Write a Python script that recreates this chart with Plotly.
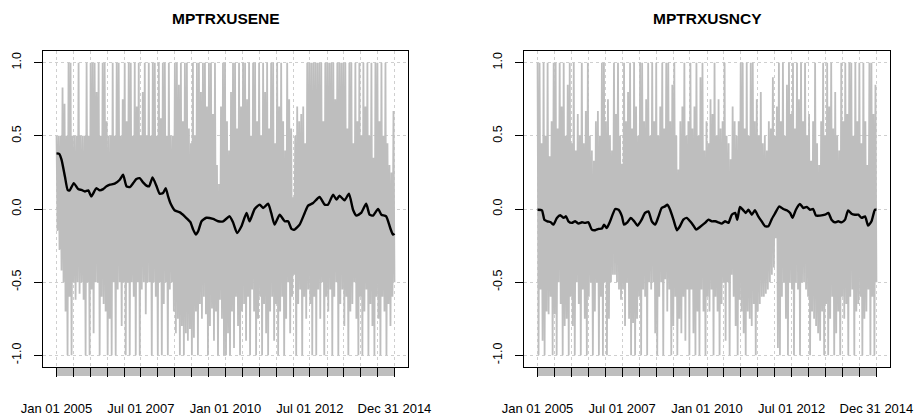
import numpy as np
import pandas as pd
import plotly.graph_objects as go

START = pd.Timestamp("2005-01-01")
END = pd.Timestamp("2014-12-31")

titles = ["MPTRXUSENE", "MPTRXUSNCY"]

# Daily indicator, summarised as the high / low reached in each short window
ene_hi = [0.5, 0.5, 0.5, 0.83, 0.72, 0.5, 1.0, 1.0, 0.5, 0.5,
          0.5, 1.0, 0.5, 0.5, 0.5, 1.0, 0.5, 1.0, 1.0, 1.0,
          0.8, 1.0, 0.5, 1.0, 1.0, 0.6, 0.5, 0.5, 1.0, 0.5,
          1.0, 1.0, 0.5, 0.75, 1.0, 0.6, 1.0, 1.0, 0.5, 1.0,
          0.7, 1.0, 0.5, 0.8, 1.0, 0.5, 1.0, 0.5, 1.0, 1.0,
          0.5, 1.0, 0.62, 1.0, 1.0, 0.5, 1.0, 0.5, 0.5, 1.0,
          1.0, 0.85, 1.0, 0.6, 1.0, 1.0, 0.55, 0.45, 1.0, 0.5,
          1.0, 1.0, 0.8, 1.0, 1.0, 0.7, 1.0, 1.0, 0.65, 1.0,
          0.3, 0.17, 0.7, 1.0, 1.0, 0.6, 0.4, 0.8, 1.0, 1.0,
          0.55, 1.0, 0.7, 1.0, 1.0, 0.75, 1.0, 0.5, 1.0, 1.0,
          0.6, 1.0, 0.5, 1.0, 0.8, 1.0, 0.55, 1.0, 1.0, 0.45,
          1.0, 0.7, 1.0, 0.6, 0.4, 1.0, 0.75, 0.55, 0.08, 0.5,
          0.7, 0.6, 0.65, 0.7, 0.45, 1.0, 1.0, 1.0, 1.0, 1.0,
          1.0, 1.0, 1.0, 0.6, 1.0, 1.0, 1.0, 1.0, 1.0, 0.75,
          1.0, 1.0, 1.0, 1.0, 1.0, 0.55, 1.0, 1.0, 0.45, 1.0,
          0.6, 1.0, 0.5, 1.0, 0.7, 1.0, 0.5, 1.0, 0.35, 1.0,
          1.0, 0.6, 1.0, 0.5, 1.0, 0.45, 0.3, 0.25, 0.67]
ene_lo = [-0.15, -0.28, -0.42, -0.5, -0.7, -1.0, -0.6, -1.0, -0.5, -0.62,
          -0.5, -0.58, -0.5, -0.62, -1.0, -0.5, -1.0, -0.55, -0.85, -0.5,
          -0.5, -1.0, -0.6, -0.65, -0.7, -1.0, -0.75, -1.0, -0.5, -1.0,
          -0.55, -0.5, -0.8, -0.5, -1.0, -0.5, -1.0, -0.5, -0.6, -1.0,
          -0.5, -1.0, -0.55, -0.5, -0.72, -0.5, -0.5, -1.0, -0.5, -0.6,
          -1.0, -0.5, -1.0, -0.65, -0.5, -1.0, -0.55, -0.5, -0.7, -0.85,
          -0.75, -1.0, -0.8, -1.0, -0.85, -0.9, -0.82, -1.0, -0.88, -0.7,
          -1.0, -0.65, -0.75, -0.6, -0.72, -1.0, -0.8, -0.68, -0.9, -0.7,
          -1.0, -0.62, -0.75, -1.0, -1.0, -0.85, -1.0, -0.7, -0.95, -0.6,
          -0.8, -1.0, -0.7, -0.65, -0.9, -0.6, -1.0, -0.55, -0.7, -1.0,
          -0.75, -0.6, -1.0, -0.65, -0.85, -1.0, -0.7, -0.6, -0.9, -0.65,
          -1.0, -0.7, -0.6, -1.0, -0.75, -0.5, -0.85, -0.6, -0.45, -1.0,
          -0.65, -0.55, -1.0, -0.6, -0.75, -0.55, -0.65, -1.0, -0.6, -1.0,
          -0.55, -0.75, -0.5, -1.0, -0.6, -0.7, -0.55, -1.0, -0.6, -0.5,
          -1.0, -0.65, -0.55, -0.8, -0.6, -1.0, -0.7, -0.65, -0.5, -0.75,
          -1.0, -0.6, -1.0, -0.7, -0.55, -1.0, -0.65, -0.8, -1.0, -0.6,
          -0.75, -1.0, -0.6, -0.7, -1.0, -0.65, -0.8, -0.6, -0.5]

ncy_hi = [1.0, 1.0, 0.45, 1.0, 0.5, 1.0, 0.36, 0.6, 1.0, 1.0,
          0.55, 1.0, 0.7, 1.0, 0.5, 0.85, 1.0, 0.45, 1.0, 0.4,
          0.65, 0.5, 1.0, 0.45, 0.67, 1.0, 0.5, 0.4, 0.33, 0.6,
          0.67, 0.5, 1.0, 1.0, 0.6, 0.75, 0.5, 0.4, 1.0, 0.65,
          1.0, 0.5, 0.31, 1.0, 0.6, 0.8, 1.0, 0.55, 1.0, 0.7,
          0.5, 1.0, 1.0, 0.6, 0.75, 1.0, 0.5, 1.0, 0.6, 1.0,
          0.5, 0.7, 1.0, 0.55, 1.0, 1.0, 0.6, 0.85, 1.0, 0.5,
          0.27, 0.6, 0.7, 1.0, 0.5, 0.6, 1.0, 0.55, 0.7, 1.0,
          0.5, 0.9, 1.0, 0.4, 0.6, 0.45, 0.75, 0.65, 1.0, 0.5,
          0.75, 0.55, 0.6, 1.0, 0.5, 0.45, 0.34, 0.7, 0.6, 0.5,
          0.6, 1.0, 1.0, 0.55, 1.0, 0.5, 1.0, 1.0, 0.6, 0.75,
          0.5, 0.8, 0.45, 0.5, 0.4, 0.6, 0.55, 0.9, 0.5, 0.7,
          1.0, 0.6, 1.0, 0.5, 0.85, 1.0, 0.65, 1.0, 0.55, 1.0,
          0.75, 1.0, 0.6, 1.0, 0.5, 0.65, 0.33, 0.6, 1.0, 0.45,
          0.3, 0.6, 1.0, 0.5, 1.0, 0.7, 1.0, 0.55, 0.8, 0.5,
          0.4, 1.0, 0.6, 1.0, 0.65, 1.0, 1.0, 0.5, 1.0, 0.6,
          1.0, 0.45, 1.0, 0.6, 0.3, 1.0, 1.0, 0.65, 0.85]
ncy_lo = [-1.0, -0.55, -0.9, -1.0, -0.7, -0.72, -0.6, -1.0, -0.72, -1.0,
          -0.5, -0.65, -1.0, -0.8, -0.75, -1.0, -0.6, -0.8, -1.0, -0.5,
          -0.65, -1.0, -0.55, -0.75, -1.0, -0.6, -0.5, -1.0, -0.7, -0.5,
          -1.0, -0.6, -1.0, -0.5, -1.0, -0.75, -0.5, -0.45, -0.45, -0.5,
          -0.55, -0.62, -0.55, -0.8, -0.5, -0.75, -1.0, -0.78, -1.0, -0.75,
          -0.6, -1.0, -0.55, -0.6, -1.0, -0.5, -0.55, -0.5, -0.85, -1.0,
          -0.6, -0.5, -1.0, -0.48, -0.7, -0.55, -1.0, -0.8, -0.6, -1.0,
          -0.75, -0.85, -0.6, -0.9, -0.55, -1.0, -0.55, -0.85, -1.0, -0.7,
          -1.0, -0.55, -0.7, -1.0, -0.6, -0.7, -0.55, -1.0, -0.6, -0.7,
          -1.0, -0.65, -0.5, -0.9, -0.5, -1.0, -0.45, -0.6, -0.8, -1.0,
          -0.62, -0.7, -0.85, -1.0, -0.7, -0.75, -0.8, -0.65, -1.0, -0.7,
          -0.65, -0.6, -0.6, -0.58, -0.55, -0.5, -0.45, -0.4, -0.2, -0.95,
          -1.0, -0.6, -0.5, -0.75, -1.0, -0.5, -0.55, -1.0, -0.5, -0.55,
          -1.0, -0.5, -0.5, -0.55, -0.6, -1.0, -0.7, -0.75, -0.8, -0.85,
          -0.9, -0.7, -1.0, -0.65, -1.0, -0.75, -0.6, -1.0, -0.85, -0.7,
          -1.0, -0.6, -0.75, -0.65, -1.0, -0.6, -0.55, -1.0, -0.7, -0.65,
          -0.6, -1.0, -0.75, -0.7, -0.55, -1.0, -0.6, -1.0, -0.5]

# Rolling mean (time in decimal years, value)
ene_ma_year = [2005.00, 2005.08, 2005.15, 2005.25, 2005.33, 2005.39, 2005.51, 2005.64, 2005.74, 2005.84,
               2005.94, 2006.03, 2006.18, 2006.28, 2006.38, 2006.48, 2006.58, 2006.72, 2006.87, 2006.97,
               2007.07, 2007.17, 2007.27, 2007.36, 2007.46, 2007.56, 2007.66, 2007.74, 2007.84, 2007.96,
               2008.05, 2008.15, 2008.23, 2008.30, 2008.37, 2008.50, 2008.65, 2008.79, 2008.89, 2008.96,
               2009.04, 2009.12, 2009.19, 2009.29, 2009.43, 2009.63, 2009.78, 2009.93, 2010.12, 2010.22,
               2010.34, 2010.47, 2010.62, 2010.71, 2010.86, 2011.01, 2011.11, 2011.26, 2011.35, 2011.45,
               2011.60, 2011.75, 2011.85, 2011.95, 2012.04, 2012.19, 2012.34, 2012.44, 2012.59, 2012.78,
               2012.93, 2013.03, 2013.18, 2013.28, 2013.37, 2013.52, 2013.65, 2013.77, 2013.87, 2014.01,
               2014.16, 2014.26, 2014.36, 2014.51, 2014.61, 2014.75, 2014.87, 2014.95, 2015.00]
ene_ma = [0.38, 0.377, 0.336, 0.22, 0.13, 0.127, 0.177, 0.136, 0.13, 0.12,
          0.127, 0.086, 0.143, 0.127, 0.136, 0.155, 0.166, 0.173, 0.2, 0.234,
          0.155, 0.15, 0.177, 0.205, 0.211, 0.182, 0.16, 0.155, 0.216, 0.155,
          0.105, 0.109, 0.143, 0.086, 0.04, -0.01, -0.023, -0.05, -0.073, -0.09,
          -0.14, -0.175, -0.152, -0.084, -0.06, -0.068, -0.084, -0.084, -0.05, -0.091,
          -0.164, -0.118, -0.027, -0.084, 0.0, 0.03, 0.007, 0.036, -0.027, -0.107,
          -0.039, -0.084, -0.084, -0.136, -0.141, -0.107, -0.027, 0.023, 0.041, 0.082,
          0.03, 0.03, 0.098, 0.064, 0.091, 0.059, 0.105, -0.005, -0.045, -0.027,
          0.036, -0.039, -0.045, 0.0, -0.039, -0.05, -0.13, -0.175, -0.168]

ncy_ma_year = [2005.00, 2005.13, 2005.20, 2005.29, 2005.39, 2005.47, 2005.57, 2005.67, 2005.77, 2005.84,
               2005.91, 2006.01, 2006.11, 2006.21, 2006.31, 2006.40, 2006.50, 2006.60, 2006.70, 2006.80,
               2006.90, 2006.96, 2007.04, 2007.14, 2007.29, 2007.39, 2007.49, 2007.55, 2007.65, 2007.75,
               2007.85, 2007.95, 2008.07, 2008.17, 2008.27, 2008.37, 2008.47, 2008.57, 2008.66, 2008.76,
               2008.83, 2008.91, 2009.01, 2009.11, 2009.20, 2009.30, 2009.40, 2009.50, 2009.60, 2009.68,
               2009.79, 2009.94, 2010.04, 2010.14, 2010.24, 2010.33, 2010.43, 2010.53, 2010.63, 2010.73,
               2010.83, 2010.89, 2010.97, 2011.07, 2011.14, 2011.22, 2011.32, 2011.41, 2011.51, 2011.61,
               2011.71, 2011.81, 2011.91, 2012.00, 2012.13, 2012.25, 2012.35, 2012.45, 2012.52, 2012.62,
               2012.74, 2012.84, 2012.94, 2013.04, 2013.13, 2013.21, 2013.33, 2013.48, 2013.58, 2013.67,
               2013.77, 2013.87, 2013.97, 2014.07, 2014.16, 2014.26, 2014.36, 2014.46, 2014.56, 2014.66,
               2014.75, 2014.85, 2014.95, 2015.00]
ncy_ma = [-0.005, -0.009, -0.073, -0.084, -0.091, -0.107, -0.061, -0.043, -0.061, -0.05,
          -0.084, -0.095, -0.084, -0.1, -0.091, -0.095, -0.091, -0.141, -0.145, -0.136,
          -0.134, -0.107, -0.13, -0.084, 0.0, -0.005, -0.05, -0.107, -0.091, -0.061,
          -0.084, -0.114, -0.073, -0.027, -0.016, -0.084, -0.107, -0.05, 0.007, 0.018,
          0.03, -0.005, -0.073, -0.145, -0.118, -0.073, -0.061, -0.084, -0.114, -0.141,
          -0.123, -0.095, -0.073, -0.084, -0.084, -0.091, -0.1, -0.084, -0.095, -0.039,
          -0.027, -0.073, 0.014, -0.009, -0.027, -0.005, -0.039, -0.009, -0.05, -0.084,
          -0.118, -0.118, -0.068, -0.032, 0.018, 0.0, -0.009, -0.027, -0.061, -0.005,
          0.034, 0.007, 0.014, -0.005, 0.0, -0.045, -0.045, -0.039, -0.027, -0.073,
          -0.091, -0.084, -0.091, -0.073, -0.009, -0.032, -0.039, -0.039, -0.061, -0.05,
          -0.114, -0.084, -0.005, -0.005]

# Axis ticks: every half year, labelled every 2.5 years
tick_dates = list(pd.date_range("2005-01-01", "2014-07-01", freq="6MS")) + [END]
tick_text = ["Jan 01 2005", "", "", "", "", "Jul 01 2007", "", "", "", "",
             "Jan 01 2010", "", "", "", "", "Jul 01 2012", "", "", "", "", "Dec 31 2014"]
y_ticks = [-1.0, -0.5, 0.0, 0.5, 1.0]
y_text = ["-1.0", "-0.5", "0.0", "0.5", "1.0"]

W, H = 914, 417
FONT = "Liberation Sans, Arial, Helvetica, sans-serif"
GREY = "#BEBEBE"


def to_dates(years):
    years = np.asarray(years, dtype=float)
    d = START + pd.to_timedelta((years - 2005.0) * 365.25, unit="D")
    return pd.DatetimeIndex(np.minimum(d.values, END.to_datetime64()))


def interleave(hi, lo):
    y = np.empty(2 * len(hi))
    y[0::2] = hi
    y[1::2] = lo
    x = pd.date_range(START, END, periods=len(y))
    return x, y


span = END - START
x_range = [START - 0.04 * span, END + 0.04 * span]

fig = go.Figure()
panels = [
    (ene_hi, ene_lo, ene_ma_year, ene_ma),
    (ncy_hi, ncy_lo, ncy_ma_year, ncy_ma),
]
x_domains = [[43 / W, 408 / W], [524 / W, 890 / W]]
y_domain = [1 - 367 / H, 1 - 51 / H]

for k, (hi, lo, ma_year, ma) in enumerate(panels):
    xa = "x" if k == 0 else "x2"
    ya = "y" if k == 0 else "y2"
    gx, gy = interleave(hi, lo)
    fig.add_trace(go.Scatter(x=gx, y=gy, mode="lines", xaxis=xa, yaxis=ya,
                             line=dict(color=GREY, width=1.8), hoverinfo="skip",
                             showlegend=False))
    fig.add_trace(go.Scatter(x=to_dates(ma_year), y=ma, mode="lines", xaxis=xa, yaxis=ya,
                             line=dict(color="black", width=2.4, shape="spline", smoothing=0.5),
                             showlegend=False))

    xkey = "xaxis" if k == 0 else "xaxis2"
    ykey = "yaxis" if k == 0 else "yaxis2"
    fig.layout[xkey] = dict(
        domain=x_domains[k], anchor=ya, type="date", range=x_range,
        automargin=False,
        tickmode="array", tickvals=tick_dates, ticktext=tick_text,
        ticks="outside", ticklen=9, tickcolor="black", tickwidth=1,
        showline=True, linecolor="black", linewidth=1, mirror=True,
        showgrid=True, gridcolor="#CFCFCF", griddash="dot", gridwidth=1,
        zeroline=False, tickangle=0, ticklabelstandoff=20,
        tickfont=dict(family=FONT, size=13, color="black"),
    )
    fig.layout[ykey] = dict(
        domain=y_domain, anchor=xa, range=[-1.08, 1.08],
        automargin=False,
        tickmode="array", tickvals=y_ticks, ticktext=y_text,
        ticks="outside", ticklen=8, tickcolor="black", tickwidth=1,
        showline=True, linecolor="black", linewidth=1, mirror=True,
        showgrid=True, gridcolor="#CFCFCF", griddash="dot", gridwidth=1,
        zeroline=False, tickangle=-90, ticklabelstandoff=8,
        tickfont=dict(family=FONT, size=12.5, color="black"),
    )
    # grey tick band under the time axis
    fig.add_shape(type="rect", xref=xa, yref="paper", x0=START, x1=END,
                  y0=1 - 376 / H, y1=1 - 367 / H, fillcolor=GREY,
                  line=dict(width=0), layer="below")
    fig.add_annotation(text="<b>%s</b>" % titles[k], xref="paper", yref="paper",
                       x=sum(x_domains[k]) / 2, y=1 - 18.7 / H, xanchor="center",
                       yanchor="middle", showarrow=False,
                       font=dict(family=FONT, size=15.5, color="black"))

fig.update_layout(width=W, height=H, margin=dict(l=0, r=0, t=0, b=0, autoexpand=False),
                  paper_bgcolor="white", plot_bgcolor="white", showlegend=False)

fig.write_html("out.html")
